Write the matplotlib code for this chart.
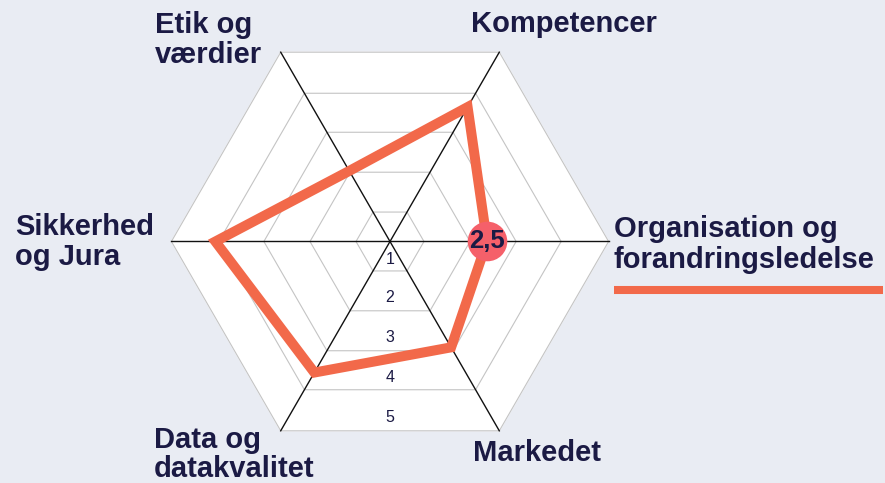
import numpy as np
import matplotlib
matplotlib.use("Agg")
import matplotlib.pyplot as plt
from matplotlib.lines import Line2D

plt.rcParams['font.family'] = ['Liberation Sans', 'DejaVu Sans']

# ---- data ----
categories = [["Organisation og", "forandringsledelse"], ["Kompetencer"], ["Etik og", "værdier"],
              ["Sikkerhed", "og Jura"], ["Data og", "datakvalitet"], ["Markedet"]]
values = [2.5, 4.0, 2.1, 4.5, 3.9, 3.15]
scale_labels = ["1", "2", "3", "4", "5"]
highlight_index = 0

# ---- style / layout ----
W, H = 885, 483
BG = "#e9ecf3"
NAVY = "#1b1a44"
ORANGE = "#f2694a"
PINK = "#f5606a"
PX_PER_UNIT = 38.8
CX, CY, RPX = 390, 241.5, 218.6
RMAX = RPX / PX_PER_UNIT
ring_fracs = [0.1555, 0.366, 0.577, 0.783, 1.0]
scale_label_px = [17.5, 56.5, 96.5, 136.5, 176.5]

fig = plt.figure(figsize=(W / 100, H / 100), dpi=100, facecolor=BG)
ax = fig.add_axes([(CX - RPX) / W, (H - CY - RPX) / H, 2 * RPX / W, 2 * RPX / H],
                  projection="polar")
ax.set_ylim(0, RMAX)
ax.set_theta_offset(0)
ax.axis("off")

n = len(values)
theta = np.arange(n) * 2 * np.pi / n
theta_c = np.append(theta, theta[0])

# white hexagon background
ax.fill(theta_c, [RMAX] * (n + 1), color="white", zorder=0, clip_on=False)
# concentric hexagon grid
for f in ring_fracs:
    ax.plot(theta_c, [RMAX * f] * (n + 1), color="#c4c4c4", lw=0.8, zorder=1, clip_on=False)
# spokes (three lines through centre)
for t in theta[:3]:
    ax.plot([t, t + np.pi], [RMAX, RMAX], color="#111111", lw=1.0, zorder=2, clip_on=False)

# scale labels
for lab, p in zip(scale_labels, scale_label_px):
    ax.text(1.5 * np.pi, p / PX_PER_UNIT, lab, ha="center", va="center",
            fontsize=11.5, color=NAVY, zorder=3)

# data line
vals_c = values + [values[0]]
ax.plot(theta_c, vals_c, color=ORANGE, lw=7.2, solid_joinstyle="miter", zorder=4, clip_on=False)

# highlighted value
ax.plot(theta[highlight_index], values[highlight_index], "o", ms=28.5, color=PINK,
        markeredgewidth=0, zorder=5, clip_on=False)
ax.text(theta[highlight_index], values[highlight_index],
        f"{values[highlight_index]:.1f}".replace(".", ","), ha="center", va="center",
        fontsize=18.5, fontweight="bold", color=NAVY, zorder=6)

# category labels (left x, baselines in px)
label_pos = [(614, [237, 268]), (471, [32]), (155, [33, 63]),
             (15, [235, 265]), (154, [448, 477]), (473, [461])]
for lines, (x, ys) in zip(categories, label_pos):
    for line, y in zip(lines, ys):
        fig.text(x / W, 1 - y / H, line, ha="left", va="baseline", fontsize=21,
                 fontweight="bold", color=NAVY)

# legend line under the first label
fig.add_artist(Line2D([614 / W, 883 / W], [1 - 290 / H, 1 - 290 / H], color=ORANGE,
                      lw=5.8, solid_capstyle="butt"))

fig.savefig("out.png", dpi=100, facecolor=BG)
